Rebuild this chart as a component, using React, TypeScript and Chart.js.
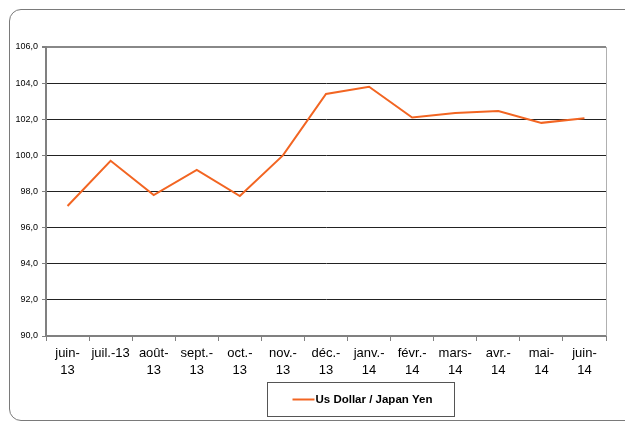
import React, { useEffect, useRef } from "react";
import { Chart, registerables } from "chart.js";

Chart.register(...registerables);

const categories: (string | string[])[] = [
  ["juin-", "13"], "juil.-13", ["août-", "13"], ["sept.-", "13"], ["oct.-", "13"], ["nov.-", "13"],
  ["déc.-", "13"], ["janv.-", "14"], ["févr.-", "14"], ["mars-", "14"], ["avr.-", "14"], ["mai-", "14"], ["juin-", "14"],
];
const usdJpy = [97.2, 99.7, 97.8, 99.2, 97.75, 100.0, 103.4, 103.8, 102.1, 102.35, 102.45, 101.8, 102.05];
const seriesLabel = "Us Dollar / Japan Yen";
const yMin = 90;
const yMax = 106;
const yStep = 2;

const LINE_COLOR = "#f26522";
const FONT = "'Liberation Sans', Arial, sans-serif";

const legendBoxPlugin = {
  id: "legendBox",
  afterDraw(chart: any) {
    const ctx = chart.ctx;
    const w = 187;
    const h = 34;
    const x = 267.5;
    const y = 382.5;
    ctx.save();
    ctx.strokeStyle = "#555";
    ctx.lineWidth = 1;
    ctx.strokeRect(x, y, w, h);
    const midY = y + h / 2;
    ctx.strokeStyle = LINE_COLOR;
    ctx.lineWidth = 2;
    ctx.beginPath();
    ctx.moveTo(x + 25, midY);
    ctx.lineTo(x + 47, midY);
    ctx.stroke();
    ctx.fillStyle = "#000";
    ctx.font = `bold 11.5px ${FONT}`;
    ctx.textBaseline = "middle";
    ctx.textAlign = "left";
    ctx.fillText(chart.data.datasets[0].label, x + 48, midY + 0.5);
    ctx.restore();
  },
};

const plotBorderPlugin = {
  id: "plotBorder",
  afterDatasetsDraw(chart: any) {
    const ctx = chart.ctx;
    const a = chart.chartArea;
    ctx.save();
    ctx.strokeStyle = "#b0b0b0";
    ctx.lineWidth = 1;
    ctx.beginPath();
    ctx.moveTo(Math.round(a.right) + 0.5, a.top);
    ctx.lineTo(Math.round(a.right) + 0.5, a.bottom);
    ctx.stroke();
    ctx.restore();
  },
};

export default function App() {
  const canvasRef = useRef<HTMLCanvasElement | null>(null);

  useEffect(() => {
    document.body.style.margin = "0";
    const canvas = canvasRef.current;
    if (!canvas) return;
    const chart = new Chart(canvas, {
      type: "line",
      data: {
        labels: categories,
        datasets: [
          {
            label: seriesLabel,
            data: usdJpy,
            borderColor: LINE_COLOR,
            backgroundColor: LINE_COLOR,
            borderWidth: 2,
            pointRadius: 0,
            tension: 0,
          },
        ],
      },
      options: {
        animation: false,
        responsive: false,
        maintainAspectRatio: false,
        layout: { padding: { left: 0, top: 47, right: 19, bottom: 40 } },
        plugins: {
          legend: { display: false },
          tooltip: { enabled: false },
        },
        scales: {
          x: {
            type: "category",
            offset: true,
            grid: {
              offset: true,
              drawOnChartArea: false,
              drawTicks: true,
              tickLength: 5,
              color: "#808080",
            },
            border: { color: "#808080", width: 2 },
            ticks: {
              color: "#000",
              font: { family: FONT, size: 13, lineHeight: 1.3 },
              maxRotation: 0,
              autoSkip: false,
              padding: 4,
            },
            afterFit(scale: any) {
              scale.height = 47;
            },
          },
          y: {
            min: yMin,
            max: yMax,
            grid: {
              color: (c: any) => (c.tick && c.tick.value === yMax ? "#888" : "#222"),
              lineWidth: (c: any) => (c.tick && c.tick.value === yMax ? 2 : 1),
              drawTicks: true,
              tickLength: 4,
              tickColor: "#808080",
            },
            border: { color: "#808080", width: 2 },
            ticks: {
              stepSize: yStep,
              color: "#000",
              font: { family: FONT, size: 9 },
              padding: 4,
              callback: (v: any) => Number(v).toFixed(1).replace(".", ","),
            },
            afterFit(scale: any) {
              scale.width = 46;
            },
          },
        },
      },
      plugins: [plotBorderPlugin, legendBoxPlugin],
    });
    return () => chart.destroy();
  }, []);

  return (
    <div style={{ position: "relative", width: 625, height: 423, overflow: "hidden", background: "#fff" }}>
      <div
        style={{
          position: "absolute",
          left: 9,
          top: 9,
          width: 700,
          height: 412,
          border: "1.5px solid #7a7a7a",
          borderRadius: 12,
          boxSizing: "border-box",
        }}
      />
      <canvas ref={canvasRef} width={625} height={423} style={{ position: "absolute", left: 0, top: 0 }} />
    </div>
  );
}
